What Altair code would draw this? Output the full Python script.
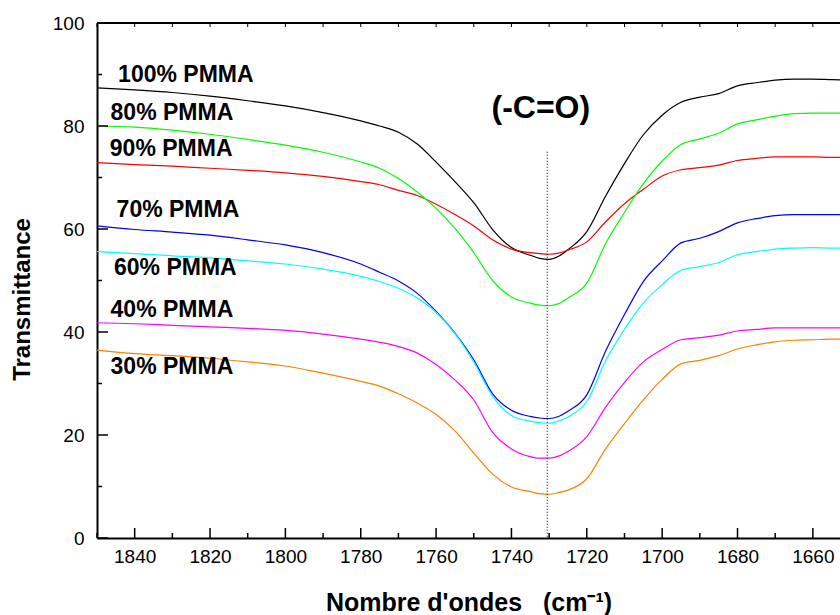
import altair as alt
import pandas as pd

# ---------------- data ----------------
wavenumber = [1850, 1840, 1830, 1820, 1810, 1800, 1790, 1780, 1775, 1770, 1765, 1760,
              1755, 1750, 1745, 1740, 1735, 1732.5, 1730, 1727.5, 1725, 1720, 1715, 1710,
              1705, 1700, 1695, 1690, 1685, 1680, 1675, 1670, 1665, 1660, 1655, 1650]

pmma_100 = [87.4, 87.0, 86.5, 85.8, 84.9, 83.9, 82.6, 81.0, 80.0, 78.8, 76.5, 73.0,
            69.2, 65.1, 59.9, 56.4, 54.9, 54.3, 54.1, 54.7, 56.0, 59.5, 66.4, 72.7,
            78.3, 82.1, 84.6, 85.6, 86.3, 87.8, 88.4, 88.9, 89.1, 89.1, 89.0, 88.9]
pmma_90 = [72.9, 72.5, 72.2, 71.8, 71.4, 70.9, 70.2, 69.2, 68.6, 67.5, 66.5, 64.8,
           62.8, 60.6, 57.9, 56.1, 55.4, 55.2, 55.1, 55.3, 55.9, 57.5, 61.4, 64.9,
           67.7, 70.3, 71.5, 71.9, 72.4, 73.3, 73.7, 74.0, 74.0, 74.0, 73.9, 73.9]
pmma_80 = [80.0, 79.8, 79.2, 78.4, 77.4, 76.3, 74.9, 73.0, 71.8, 69.8, 67.2, 64.0,
           60.1, 55.4, 50.0, 46.8, 45.6, 45.2, 45.1, 45.5, 46.6, 49.5, 57.2, 63.2,
           68.8, 73.2, 76.4, 77.5, 78.6, 80.4, 81.2, 81.9, 82.4, 82.5, 82.5, 82.5]
pmma_70 = [60.6, 59.9, 59.4, 58.8, 57.9, 56.9, 55.4, 53.2, 51.6, 49.9, 47.5, 44.0,
           39.8, 34.6, 28.0, 24.8, 23.6, 23.3, 23.2, 23.6, 24.6, 27.8, 36.3, 43.4,
           49.8, 53.8, 57.3, 58.2, 59.5, 61.2, 62.0, 62.6, 62.8, 62.8, 62.8, 62.8]
pmma_60 = [55.6, 55.2, 54.8, 54.4, 53.8, 53.2, 52.2, 50.8, 49.8, 48.5, 46.6, 43.8,
           39.7, 34.2, 27.5, 23.8, 22.7, 22.4, 22.3, 22.7, 23.5, 26.5, 34.4, 40.5,
           45.6, 49.2, 52.0, 52.7, 53.5, 55.0, 55.6, 56.1, 56.3, 56.4, 56.3, 56.3]
pmma_40 = [41.8, 41.6, 41.3, 41.0, 40.7, 40.3, 39.6, 38.6, 38.0, 37.2, 35.9, 33.7,
           30.7, 26.8, 20.5, 17.3, 15.8, 15.5, 15.5, 15.9, 16.8, 19.7, 25.4, 30.2,
           34.2, 36.6, 38.5, 38.9, 39.4, 40.2, 40.5, 40.8, 40.8, 40.8, 40.8, 40.8]
pmma_30 = [36.5, 35.8, 35.4, 34.9, 34.2, 33.4, 32.0, 30.4, 29.5, 28.0, 26.2, 24.0,
           20.8, 16.5, 12.4, 9.9, 9.0, 8.6, 8.5, 8.8, 9.3, 11.5, 17.3, 22.2,
           26.8, 30.8, 33.8, 34.5, 35.4, 36.7, 37.5, 38.1, 38.4, 38.5, 38.6, 38.6]

series_names = ["100% PMMA", "90% PMMA", "80% PMMA", "70% PMMA",
                "60% PMMA", "40% PMMA", "30% PMMA"]
series_values = [pmma_100, pmma_90, pmma_80, pmma_70, pmma_60, pmma_40, pmma_30]
series_colors = ["#000000", "#ff0000", "#00ff00", "#0000ff",
                 "#00ffff", "#ff00ff", "#ff8000"]

# curve labels (anchor in data units)
label_text = ["100% PMMA", "80% PMMA", "90% PMMA", "70% PMMA",
              "60% PMMA", "40% PMMA", "30% PMMA"]
label_x = [1844.4, 1846.4, 1846.6, 1844.8, 1845.5, 1846.4, 1846.4]
label_y = [89.9, 82.5, 75.5, 63.7, 52.4, 44.3, 33.3]

band_label = "(-C=O)"
band_label_x = [1732.2]
band_label_y = [83.4]
band_position = [1730.5]
band_top = [75.0]

x_major = [1840, 1820, 1800, 1780, 1760, 1740, 1720, 1700, 1680, 1660]
x_minor = [1850, 1830, 1810, 1790, 1770, 1750, 1730, 1710, 1690, 1670]
y_major = [0, 20, 40, 60, 80, 100]
y_minor = [10, 30, 50, 70, 90]

# ---------------- build ----------------
W, H = 743, 515
FONT = "Liberation Sans"

rows = []
for name, vals in zip(series_names, series_values):
    for w, v in zip(wavenumber, vals):
        rows.append({"wn": w, "T": v, "series": name})
df = pd.DataFrame(rows)

xscale = alt.Scale(domain=[1850, 1652.8], nice=False, zero=False)
yscale = alt.Scale(domain=[0, 100], nice=False, zero=True)

xaxis = alt.Axis(values=x_major, format="d", ticks=False, grid=False,
                 labelPadding=9, labelFontSize=19, labelFont=FONT, labelColor="black",
                 labelOverlap=False, domainColor="black", domainWidth=2,
                 title="Nombre d'ondes\u00a0\u00a0\u00a0(cm\u207b\u00b9)", titleFont=FONT,
                 titleFontSize=25, titleFontWeight="bold", titleColor="black", titleY=72,
                 titleBaseline="alphabetic")
yaxis = alt.Axis(values=y_major, format="d", ticks=False, grid=False,
                 labelPadding=13, labelFontSize=19, labelFont=FONT, labelColor="black",
                 labelOverlap=False, domainColor="black", domainWidth=2,
                 title="Transmittance", titleFont=FONT, titleFontSize=24,
                 titleFontWeight="bold", titleColor="black", titleAngle=270,
                 titleX=-75, titleY=276, titleAlign="center", titleBaseline="middle")


def xr(field):
    return alt.X(field, type="quantitative", scale=xscale, axis=xaxis)


def yr(field):
    return alt.Y(field, type="quantitative", scale=yscale, axis=yaxis)


lines = alt.Chart(df).mark_line(strokeWidth=1.2, interpolate="monotone", clip=True).encode(
    x=xr("wn"),
    y=yr("T"),
    color=alt.Color("series:N", scale=alt.Scale(domain=series_names, range=series_colors),
                    legend=None),
    order=alt.Order("wn:Q"),
)

xmaj = alt.Chart(pd.DataFrame({"v": x_major})).mark_rule(color="black", strokeWidth=1.5).encode(
    x=xr("v"), y=alt.value(H), y2=alt.value(H - 10))
xmin = alt.Chart(pd.DataFrame({"v": x_minor})).mark_rule(color="black", strokeWidth=1.5).encode(
    x=xr("v"), y=alt.value(H), y2=alt.value(H - 5))
xtop = alt.Chart(pd.DataFrame({"v": x_major + x_minor})).mark_rule(color="black", strokeWidth=1).encode(
    x=xr("v"), y=alt.value(0), y2=alt.value(4))
ymaj = alt.Chart(pd.DataFrame({"v": y_major})).mark_rule(color="black", strokeWidth=1.5).encode(
    y=yr("v"), x=alt.value(0), x2=alt.value(11))
ymin = alt.Chart(pd.DataFrame({"v": y_minor})).mark_rule(color="black", strokeWidth=1.5).encode(
    y=yr("v"), x=alt.value(0), x2=alt.value(5))
top_border = alt.Chart(pd.DataFrame({"a": [0]})).mark_rule(color="black", strokeWidth=2).encode(
    x=alt.value(0), x2=alt.value(W), y=alt.value(0))

band = alt.Chart(pd.DataFrame({"x": band_position, "y": band_top, "y2": [0]})).mark_rule(
    color="black", strokeWidth=1, strokeDash=[1, 2]).encode(
    x=xr("x"), y=yr("y"), y2="y2:Q")

labels = alt.Chart(pd.DataFrame({"x": label_x, "y": label_y, "t": label_text})).mark_text(
    align="left", baseline="middle", font=FONT, fontSize=23, fontWeight="bold", color="black").encode(
    x=xr("x"), y=yr("y"), text="t:N")

band_text = alt.Chart(pd.DataFrame({"x": band_label_x, "y": band_label_y, "t": [band_label]})).mark_text(
    align="center", baseline="middle", font=FONT, fontSize=32, fontWeight="bold", color="black").encode(
    x=xr("x"), y=yr("y"), text="t:N")

chart = alt.layer(
    lines, band, xmaj, xmin, xtop, ymaj, ymin, top_border, labels, band_text
).properties(
    width=W, height=H,
    autosize=alt.AutoSizeParams(type="none"),
    padding={"left": 97, "top": 23, "right": 0, "bottom": 77},
    background="white",
).configure_view(stroke=None)

chart.save("out.html", embed_options={"renderer": "svg", "actions": False})
